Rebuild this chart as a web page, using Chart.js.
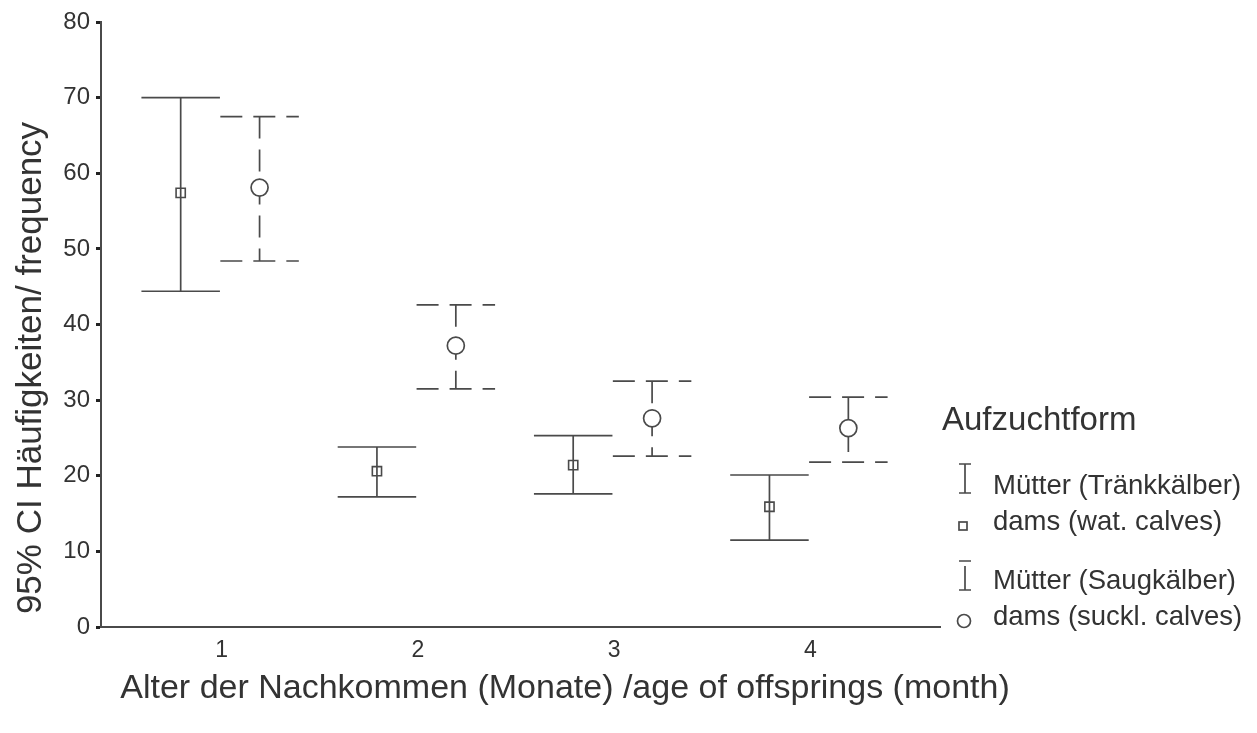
<!DOCTYPE html>
<html>
<head>
<meta charset="utf-8">
<script src="https://cdn.jsdelivr.net/npm/chart.js@4/dist/chart.umd.min.js"></script>
<style>
html,body{margin:0;padding:0;background:#fff;}
#wrap{width:1257px;height:733px;position:relative;}
</style>
</head>
<body>
<div id="wrap"><canvas id="c" width="1257" height="733"></canvas></div>
<script>
// ---- data ----
const categories = ['1', '2', '3', '4'];
const categoryValues = [1, 2, 3, 4];
const yTickValues = [0, 10, 20, 30, 40, 50, 60, 70, 80];

const trankMean = [57.4, 20.6, 21.4, 15.9];
const trankLow  = [44.4, 17.2, 17.6, 11.5];
const trankHigh = [70.0, 23.8, 25.3, 20.1];

const saugMean = [58.1, 37.2, 27.6, 26.3];
const saugLow  = [48.4, 31.5, 22.6, 21.8];
const saugHigh = [67.5, 42.6, 32.5, 30.4];

const seriesNames = ['Mütter (Tränkkälber)', 'dams (wat. calves)', 'Mütter (Saugkälber)', 'dams (suckl. calves)'];
const legendTitle = 'Aufzuchtform';
const xTitle = 'Alter der Nachkommen (Monate) /age of offsprings (month)';
const yTitle = '95% CI Häufigkeiten/ frequency';

// ---- style / layout constants ----
const OFF_T = -0.209, OFF_S = 0.193, CAP = 0.2;
const INK = '#4a4a4a';
const TXT = '#333';
const FONT = '"Liberation Sans", Arial, sans-serif';

function mkData(means, off) {
  return means.map((m, i) => ({x: categoryValues[i] + off, y: m, i: i}));
}

const errorBars = {
  id: 'errorBars',
  beforeDatasetsDraw(chart) {
    const ctx = chart.ctx, xs = chart.scales.x, ys = chart.scales.y;
    const sets = [
      {off: OFF_T, lo: trankLow, hi: trankHigh, dash: []},
      {off: OFF_S, lo: saugLow, hi: saugHigh, dash: [22, 11]}
    ];
    ctx.save();
    ctx.strokeStyle = INK;
    ctx.lineWidth = 1.7;
    sets.forEach(s => {
      categoryValues.forEach((c, i) => {
        const x = xs.getPixelForValue(c + s.off);
        const xl = xs.getPixelForValue(c + s.off - CAP);
        const xr = xs.getPixelForValue(c + s.off + CAP);
        const yl = ys.getPixelForValue(s.lo[i]);
        const yh = ys.getPixelForValue(s.hi[i]);
        ctx.setLineDash(s.dash);
        ctx.beginPath();
        ctx.moveTo(xl, yh); ctx.lineTo(xr, yh);
        ctx.moveTo(xl, yl); ctx.lineTo(xr, yl);
        ctx.stroke();
        ctx.beginPath();
        ctx.moveTo(x, yh); ctx.lineTo(x, yl);
        ctx.stroke();
      });
    });
    ctx.restore();
  },
  afterDraw(chart) {
    const ctx = chart.ctx;
    ctx.save();
    ctx.fillStyle = TXT;
    // x title
    ctx.font = '34px ' + FONT;
    ctx.textAlign = 'center';
    ctx.textBaseline = 'middle';
    ctx.fillText(xTitle, 565, 689);
    // y title
    ctx.save();
    ctx.translate(31, 368);
    ctx.rotate(-Math.PI / 2);
    ctx.font = '35px ' + FONT;
    ctx.fillText(yTitle, 0, 0);
    ctx.restore();
    // legend
    ctx.textAlign = 'left';
    ctx.textBaseline = 'alphabetic';
    ctx.font = '33px ' + FONT;
    ctx.fillText(legendTitle, 942, 430);
    ctx.font = '27.5px ' + FONT;
    const bl = [494, 530, 589, 625];
    seriesNames.forEach((n, k) => ctx.fillText(n, 993, bl[k]));
    ctx.strokeStyle = INK;
    ctx.lineWidth = 1.7;
    // icon 1: solid I-beam
    ctx.beginPath();
    ctx.moveTo(959, 464); ctx.lineTo(971, 464);
    ctx.moveTo(959, 493); ctx.lineTo(971, 493);
    ctx.moveTo(965, 464); ctx.lineTo(965, 493);
    ctx.stroke();
    // icon 2: small square
    ctx.strokeRect(959, 522, 8, 8);
    // icon 3: dashed I-beam
    ctx.beginPath();
    ctx.moveTo(959, 561); ctx.lineTo(971, 561);
    ctx.moveTo(959, 590); ctx.lineTo(971, 590);
    ctx.moveTo(965, 566); ctx.lineTo(965, 590);
    ctx.stroke();
    // icon 4: circle
    ctx.beginPath();
    ctx.arc(964, 621, 6.5, 0, Math.PI * 2);
    ctx.stroke();
    ctx.restore();
  }
};

new Chart(document.getElementById('c'), {
  type: 'scatter',
  data: {
    datasets: [
      {
        label: seriesNames[1],
        data: mkData(trankMean, OFF_T),
        pointStyle: 'rect',
        pointRadius: 6.5,
        pointHoverRadius: 6.5,
        pointBorderColor: INK,
        pointBackgroundColor: 'rgba(0,0,0,0)',
        pointBorderWidth: 1.6
      },
      {
        label: seriesNames[3],
        data: mkData(saugMean, OFF_S),
        pointStyle: 'circle',
        pointRadius: 8.5,
        pointHoverRadius: 8.5,
        pointBorderColor: INK,
        pointBackgroundColor: '#fff',
        pointBorderWidth: 1.7
      }
    ]
  },
  options: {
    responsive: false,
    animation: false,
    events: [],
    layout: {padding: {left: 0, top: 22, right: 317, bottom: 0}},
    plugins: {legend: {display: false}, tooltip: {enabled: false}, title: {display: false}},
    scales: {
      x: {
        type: 'linear',
        min: 0.385,
        max: 4.66,
        afterBuildTicks(scale) { scale.ticks = categoryValues.map(v => ({value: v})); },
        afterFit(scale) { scale.height = 106; },
        grid: {display: false},
        border: {display: true, color: INK, width: 2},
        ticks: {
          padding: 2,
          color: TXT,
          font: {family: FONT, size: 23},
          callback: (v) => categories[categoryValues.indexOf(v)]
        }
      },
      y: {
        type: 'linear',
        min: 0,
        max: 80,
        afterBuildTicks(scale) { scale.ticks = yTickValues.map(v => ({value: v})); },
        afterFit(scale) { scale.width = 101; },
        grid: {display: true, drawOnChartArea: false, tickLength: 5, tickWidth: 3, tickColor: '#222'},
        border: {display: true, color: INK, width: 2},
        ticks: {
          padding: 6,
          color: TXT,
          font: {family: FONT, size: 24}
        }
      }
    }
  },
  plugins: [errorBars]
});
</script>
</body>
</html>
